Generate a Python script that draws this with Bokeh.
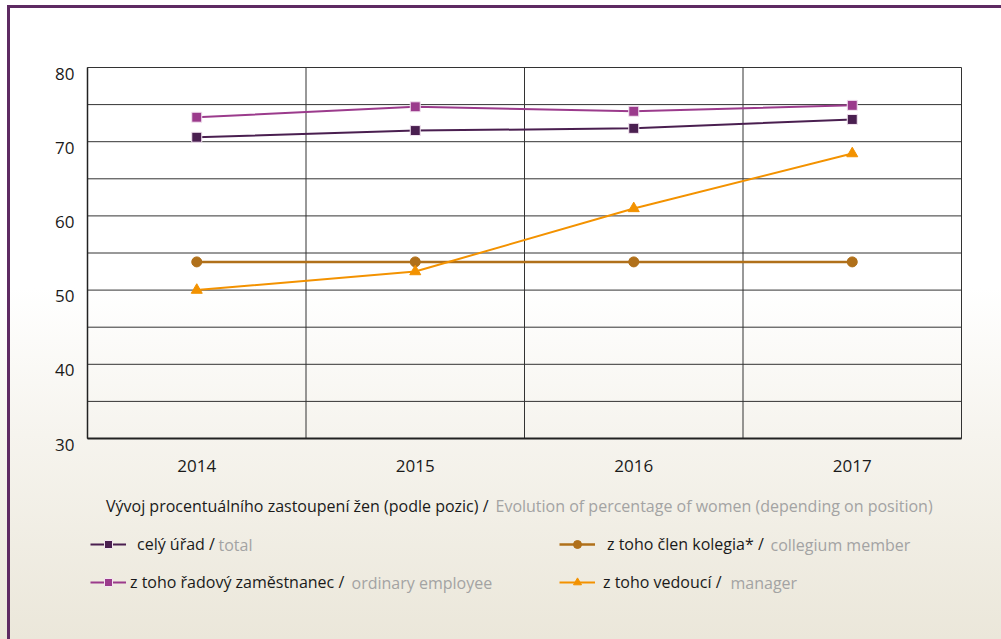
from bokeh.plotting import figure
from bokeh.models import Range1d, Label, Legend, LegendItem
from bokeh.core.properties import value
from bokeh.embed import file_html
from bokeh.resources import INLINE

# ---- data ----
years = ["2014", "2015", "2016", "2017"]
total = [70.6, 71.5, 71.8, 73.0]            # celý úřad / total
ordinary = [73.3, 74.7, 74.1, 74.9]         # z toho řadový zaměstnanec
collegium = [53.8, 53.8, 53.8, 53.8]        # z toho člen kolegia*
manager = [50.0, 52.5, 61.0, 68.4]          # z toho vedoucí
y_ticks = [30, 40, 50, 60, 70, 80]
y_grid = [30, 35, 40, 45, 50, 55, 60, 65, 70, 75, 80]

caption_cz = "Vývoj procentuálního zastoupení žen (podle pozic) /"
caption_en = "Evolution of percentage of women (depending on position)"
names_cz = ["celý úřad /", "z toho řadový zaměstnanec /", "z toho člen kolegia* /", "z toho vedoucí /"]
names_en = ["total", "ordinary employee", "collegium member", "manager"]

FONT = "Open Sans"
C_TOTAL = "#4a1f50"
C_ORD = "#9b3b8c"
C_COL = "#b0701a"
C_MAN = "#f39200"
C_BORDER = "#5e2a62"
GRAY = "#a3a3a3"
INK = "#1a1a1a"
GRID = "#333333"

W, H = 1001, 639
# chart box in canvas pixels
BX0, BX1, BY0, BY1 = 87, 961, 67, 438
n = len(years)
ymin, ymax = y_ticks[0], y_ticks[-1]
xpx = (BX1 - BX0) / n
ypx = (BY1 - BY0) / (ymax - ymin)

xs = [i + 0.5 for i in range(n)]
xb = list(range(n + 1))

p = figure(width=W, height=H, output_backend="svg", toolbar_location=None,
           x_axis_location=None, y_axis_location=None,
           x_range=Range1d(-BX0 / xpx, n + (W - BX1) / xpx),
           y_range=Range1d(ymin - (H - BY1) / ypx, ymax + BY0 / ypx),
           min_border=0)
p.background_fill_color = None
p.border_fill_color = None
p.outline_line_color = None
for g in p.grid:
    g.visible = False
p.styles = {
    "background": (
        f"linear-gradient({C_BORDER},{C_BORDER}) 7px 5px / 3px 100% no-repeat, "
        f"linear-gradient({C_BORDER},{C_BORDER}) 7px 5px / 100% 3px no-repeat, "
        "linear-gradient(to bottom, #ffffff 0%, #ffffff 45%, #f6f4ee 68%, #ebe7da 100%)"
    ),
}

# grid lines of the chart box
p.segment(x0=[0] * len(y_grid), y0=y_grid, x1=[n] * len(y_grid), y1=y_grid,
          line_color=GRID, line_width=1)
p.segment(x0=xb, y0=[ymin] * len(xb), x1=xb, y1=[ymax] * len(xb),
          line_color=GRID, line_width=1)
p.segment(x0=[0], y0=[ymin], x1=[n], y1=[ymin], line_color="#222222", line_width=2)
p.segment(x0=[0], y0=[ymin], x1=[0], y1=[ymax], line_color="#222222", line_width=1.5)

# tick labels
p.text(x=xs, y=[ymin] * n, text=years, y_offset=27, text_align="center",
       text_baseline="middle", text_font=value(FONT), text_font_size="17px", text_color=INK)
p.text(x=[0] * len(y_ticks), y=y_ticks, text=[str(v) for v in y_ticks],
       x_offset=-13, y_offset=6, text_align="right", text_baseline="middle",
       text_font=value(FONT), text_font_size="17px", text_color=INK)

# series
series = [
    (total, C_TOTAL, "square", 10, 2),
    (ordinary, C_ORD, "square", 10, 2),
    (collegium, C_COL, "circle", 10, 2.5),
    (manager, C_MAN, "triangle", 11, 2),
]
renderers = []
for vals, col, mk, sz, lw in series:
    lr = p.line(xs, vals, line_color=col, line_width=lw)
    sr = p.scatter(xs, vals, marker=mk, size=sz, fill_color=col,
                   line_color="#f4e6f2" if mk == "square" else col, line_width=1)
    renderers.append((lr, sr))

# legends (one per entry), positions from canvas bottom-left
leg_pos = [(90, 84), (90, 46), (559, 84), (559, 46)]
standoffs = [11, 4, 12, 8]
for (lr, sr), name, loc, so in zip(renderers, names_cz, leg_pos, standoffs):
    leg = Legend(items=[LegendItem(label=name, renderers=[lr, sr])], location=loc,
                 padding=0, margin=0, spacing=0, glyph_width=36, glyph_height=20,
                 label_height=20, label_standoff=so,
                 background_fill_alpha=0, border_line_color=None,
                 label_text_font=FONT, label_text_font_size="16px", label_text_color=INK)
    p.add_layout(leg)

gray_pos = [(218, 95), (351, 57), (770, 95), (730, 57)]
for name, (gx, gy) in zip(names_en, gray_pos):
    p.add_layout(Label(x=gx, y=gy, x_units="screen", y_units="screen", text=name,
                       text_align="left", text_baseline="middle",
                       text_font=FONT, text_font_size="16px", text_color=GRAY))

# caption
p.add_layout(Label(x=488, y=134, x_units="screen", y_units="screen", text=caption_cz,
                   text_align="right", text_baseline="middle",
                   text_font=FONT, text_font_size="16px", text_color=INK))
p.add_layout(Label(x=495, y=134, x_units="screen", y_units="screen", text=caption_en,
                   text_align="left", text_baseline="middle",
                   text_font=FONT, text_font_size="16px", text_color=GRAY))

open("out.html", "w").write(file_html(p, INLINE))
